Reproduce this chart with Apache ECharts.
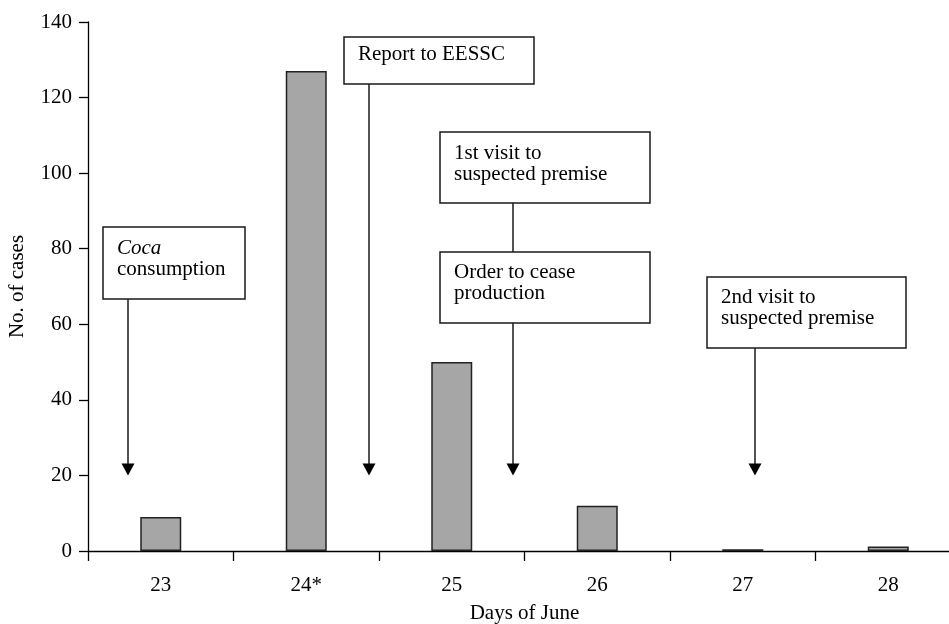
<!DOCTYPE html>
<html><head><meta charset="utf-8">
<script src="https://cdn.jsdelivr.net/npm/echarts@6/dist/echarts.min.js"></script>
<style>html,body{margin:0;padding:0;background:#fff;overflow:hidden}#c{width:949px;height:624px}</style>
</head><body><div id="c"></div>
<script>
// ---- data ----
const days = ['23', '24*', '25', '26', '27', '28'];
const cases = [9, 127, 50, 12, 0.45, 1.2];
const yMin = 0, yMax = 140, yStep = 20;
const arrowTargetValue = 20;
const noteTexts = [
  '{i|Coca}\nconsumption',
  'Report to EESSC',
  '1st visit to\nsuspected premise',
  'Order to cease\nproduction',
  '2nd visit to\nsuspected premise'
];

const FONT = '"Liberation Serif", "DejaVu Serif", serif';
const chart = echarts.init(document.getElementById('c'), null, {renderer: 'canvas', width: 949, height: 624});

chart.setOption({
  animation: false,
  backgroundColor: '#fff',
  textStyle: {fontFamily: FONT, color: '#000'},
  grid: {left: 88, top: 22, width: 873, height: 529, containLabel: false, outerBoundsMode: 'none'},
  xAxis: {
    type: 'category', data: days,
    name: 'Days of June', nameLocation: 'middle', nameGap: 52,
    nameTextStyle: {fontFamily: FONT, fontSize: 21, color: '#000'},
    axisLine: {lineStyle: {color: '#000', width: 1.3}},
    axisTick: {show: true, length: 10, lineStyle: {color: '#000', width: 1.3}},
    axisLabel: {fontFamily: FONT, fontSize: 21, color: '#000', margin: 24}
  },
  yAxis: {
    type: 'value', min: yMin, max: yMax, interval: yStep,
    name: 'No. of cases', nameLocation: 'middle', nameGap: 60, nameRotate: 90,
    nameTextStyle: {fontFamily: FONT, fontSize: 21, color: '#000'},
    axisLine: {show: true, lineStyle: {color: '#000', width: 1.3}},
    axisTick: {show: true, length: 9, lineStyle: {color: '#000', width: 1.3}},
    axisLabel: {fontFamily: FONT, fontSize: 21, color: '#000', margin: 16},
    splitLine: {show: false}
  },
  series: [{
    type: 'bar', data: cases, barWidth: 41,
    itemStyle: {color: '#a6a6a6', borderColor: '#222', borderWidth: 1.5}
  }]
});

// ---- annotations (layout in pixels) ----
const tipY = chart.convertToPixel({yAxisIndex: 0}, arrowTargetValue);
const boxes = [
  {x: 103, y: 227, w: 142, h: 72, ax: 128, pad: 11},
  {x: 344, y: 37, w: 190, h: 47, ax: 369, pad: 7},
  {x: 440, y: 132, w: 210, h: 71, ax: null, pad: 11},
  {x: 440, y: 252, w: 210, h: 71, ax: 513, pad: 10},
  {x: 707, y: 277, w: 199, h: 71, ax: 755, pad: 10}
];
const g = [];
const stroke = '#1a1a1a';
boxes.forEach((b, i) => {
  g.push({type: 'rect', shape: {x: b.x, y: b.y, width: b.w, height: b.h},
    style: {fill: '#fff', stroke: stroke, lineWidth: 1.5}, z: 10});
  g.push({type: 'text', x: b.x + 14, y: b.y + b.pad, z: 11,
    style: {text: noteTexts[i], fontFamily: FONT, fontSize: 21, lineHeight: 21,
      fill: '#000', verticalAlign: 'top', align: 'left',
      rich: {i: {fontFamily: FONT, fontSize: 21, lineHeight: 21, fontStyle: 'italic', fill: '#000'}}}});
  if (b.ax !== null) {
    const headH = 12, headW = 6.5;
    g.push({type: 'line', z: 9, shape: {x1: b.ax, y1: b.y + b.h, x2: b.ax, y2: tipY - headH + 1},
      style: {stroke: stroke, lineWidth: 1.5}});
    g.push({type: 'polygon', z: 9, shape: {points: [[b.ax - headW, tipY - headH], [b.ax + headW, tipY - headH], [b.ax, tipY]]},
      style: {fill: '#000'}});
  }
});
// connector between 1st visit box and order box
g.push({type: 'line', z: 9, shape: {x1: 513, y1: boxes[2].y + boxes[2].h, x2: 513, y2: boxes[3].y},
  style: {stroke: stroke, lineWidth: 1.5}});
chart.setOption({graphic: g});
</script>
</body></html>
